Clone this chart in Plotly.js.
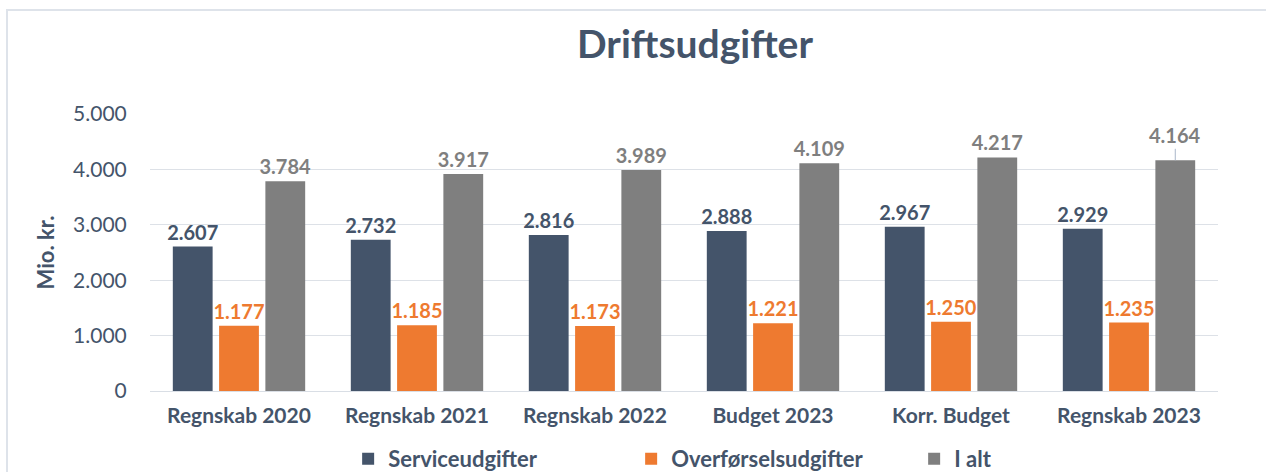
<!DOCTYPE html>
<html>
<head>
<meta charset="utf-8">
<script src="https://cdn.plot.ly/plotly-3.0.1.min.js"></script>
<style>
  html, body { margin: 0; padding: 0; background: #fff; }
  #chart { width: 1266px; height: 472px; position: absolute; left: 0; top: 0; }
  #frame { position: absolute; left: 6px; top: 9px; width: 1262px; height: 470px;
           border-top: 2px solid #DEE3EA; border-left: 2px solid #DEE3EA; pointer-events: none; }
</style>
</head>
<body>
<div id="chart"></div>
<div id="frame"></div>
<script>
const categories = ["Regnskab 2020", "Regnskab 2021", "Regnskab 2022", "Budget 2023", "Korr. Budget", "Regnskab 2023"];
const serviceudgifter = [2607, 2732, 2816, 2888, 2967, 2929];
const overfoerselsudgifter = [1177, 1185, 1173, 1221, 1250, 1235];
const iAlt = [3784, 3917, 3989, 4109, 4217, 4164];
const seriesNames = ["Serviceudgifter", "Overførselsudgifter", "I alt"];
const yTickValues = [0, 1000, 2000, 3000, 4000, 5000];

const FONT = "Lato, 'Open Sans', sans-serif";
const SLATE = "#44546A";
const ORANGE = "#EE7A30";
const GREY = "#7F7F7F";

const margin = {l: 150, r: 48, t: 114, b: 81, autoexpand: false};
const bargap = 0.22, bargroupgap = 0.14;

const labelFont = (c) => ({family: FONT, size: 20, color: c, weight: 700});

// Last "I alt" label is drawn as an annotation with a leader line
const greyTemplates = iAlt.map((v, i) => i === iAlt.length - 1 ? "" : "%{y:,d}");

const common = {type: "bar", x: categories, textposition: "outside", constraintext: "none",
                cliponaxis: false, hoverinfo: "skip"};
const traces = [
  Object.assign({}, common, {name: seriesNames[0], y: serviceudgifter,
   marker: {color: SLATE}, texttemplate: "%{y:,d}", textfont: labelFont(SLATE)}),
  Object.assign({}, common, {name: seriesNames[1], y: overfoerselsudgifter,
   marker: {color: ORANGE}, texttemplate: "%{y:,d}", textfont: labelFont(ORANGE)}),
  Object.assign({}, common, {name: seriesNames[2], y: iAlt,
   marker: {color: GREY}, texttemplate: greyTemplates, textfont: labelFont(GREY)})
];

const plotW = 1266 - margin.l - margin.r;
const catW = plotW / categories.length;
const slotW = catW * (1 - bargap) / 3;
const lastIdx = categories.length - 1;
const fmt = (n) => String(n).replace(/\B(?=(\d{3})+(?!\d))/g, ".");

const layout = {
  width: 1266, height: 472,
  margin: margin,
  paper_bgcolor: "#ffffff", plot_bgcolor: "#ffffff",
  separators: ",.",
  barmode: "group", bargap: bargap, bargroupgap: bargroupgap,
  title: {text: "Driftsudgifter", x: 0.549, xanchor: "center", y: 0.905, yanchor: "middle",
          font: {family: FONT, size: 39, color: SLATE, weight: 700}},
  xaxis: {type: "category", showgrid: false, showline: true, linecolor: "#D9DEE5", linewidth: 1,
          ticks: "", tickfont: {family: FONT, size: 21, color: SLATE, weight: 700}, ticklabelstandoff: 6},
  yaxis: {range: [0, 5000], tickvals: yTickValues, tickformat: ",d", showgrid: true,
          gridcolor: "#DDE1E7", gridwidth: 1, zeroline: false, showline: false,
          ticks: "outside", ticklen: 18, tickcolor: "rgba(0,0,0,0)",
          tickfont: {family: FONT, size: 21, color: SLATE},
          title: {text: "Mio. kr.", standoff: 12, font: {family: FONT, size: 22, color: SLATE, weight: 700}}},
  showlegend: true,
  legend: {orientation: "h", x: 0.583, xanchor: "center", y: -0.245, yanchor: "middle",
           entrywidth: 238, entrywidthmode: "pixels", traceorder: "normal",
           font: {family: FONT, size: 22, color: SLATE, weight: 700}, itemclick: false},
  annotations: [{
    x: categories[lastIdx], y: iAlt[lastIdx], xref: "x", yref: "y",
    xshift: slotW, text: fmt(iAlt[lastIdx]),
    showarrow: true, arrowhead: 0, arrowwidth: 1, arrowcolor: "#A9B7C9",
    ax: 0, ay: -25, font: labelFont(GREY)
  }]
};

Plotly.newPlot("chart", traces, layout, {displayModeBar: false, staticPlot: true});
</script>
</body>
</html>
